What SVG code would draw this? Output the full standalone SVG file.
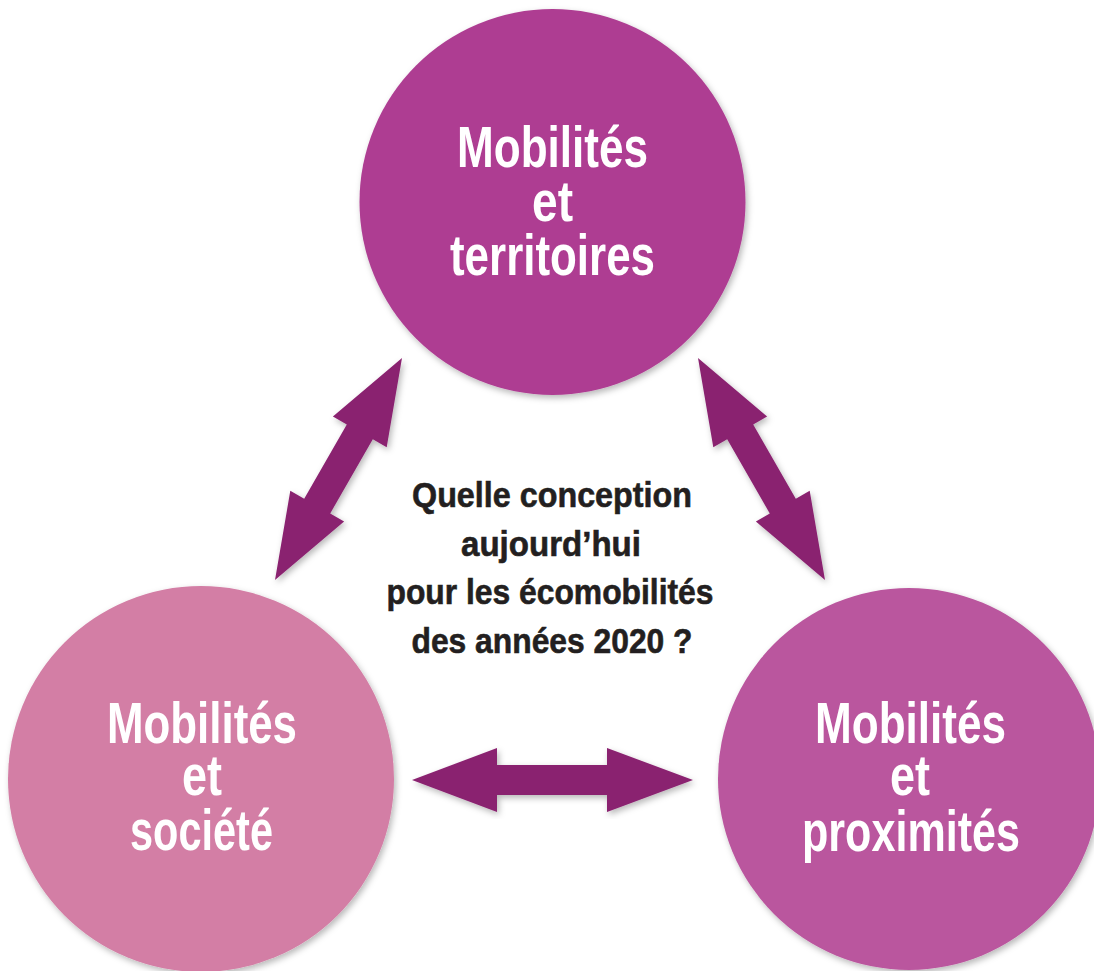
<svg xmlns="http://www.w3.org/2000/svg" width="1094" height="971" viewBox="0 0 1094 971">
  <defs>
    <filter id="shadow" x="-10%" y="-10%" width="120%" height="120%">
      <feDropShadow dx="2" dy="3" stdDeviation="3" flood-color="#000" flood-opacity="0.28"/>
    </filter>
    <style>
      .node-label { font-family: "Liberation Sans", Arial, sans-serif; font-weight: bold; font-size: 57px; fill: #ffffff; text-anchor: middle; }
      .center-label { font-family: "Liberation Sans", Arial, sans-serif; font-weight: bold; font-size: 35px; fill: #231f20; stroke: #231f20; stroke-width: 0.6px; text-anchor: middle; }
      .arrow { fill: #8a2270; filter: url(#shadow); }
      .disc { filter: url(#shadow); }
    </style>
  </defs>

  <rect width="1094" height="971" fill="#ffffff"/>

  <!-- double-headed connectors between the three themes -->
  <g id="connectors">
    <polygon class="arrow" points="402,358 386.7,447.2 372.8,439.2 330.2,513.6 344.1,521.6 275,580 290.3,490.8 304.2,498.8 346.8,424.4 332.9,416.4"/>
    <polygon class="arrow" points="698,358 713.3,447.2 727.2,439.2 769.8,513.6 755.9,521.6 825,580 809.7,490.8 795.8,498.8 753.2,424.4 767.1,416.4"/>
    <polygon class="arrow" points="412,780 497,748 497,765 607,765 607,748 693,780 607,812 607,795 497,795 497,812"/>
  </g>

  <g id="node-territoires">
    <circle class="disc" cx="552.5" cy="202" r="193" fill="#ae3e92"/>
    <text class="node-label" x="552.5" y="167" textLength="191" lengthAdjust="spacingAndGlyphs">Mobilités</text>
    <text class="node-label" x="552.5" y="221" textLength="41" lengthAdjust="spacingAndGlyphs">et</text>
    <text class="node-label" x="552.5" y="275" textLength="205" lengthAdjust="spacingAndGlyphs">territoires</text>
  </g>

  <g id="node-societe">
    <circle class="disc" cx="201" cy="779" r="193" fill="#d37ea5"/>
    <text class="node-label" x="202" y="743" textLength="190" lengthAdjust="spacingAndGlyphs">Mobilités</text>
    <text class="node-label" x="202" y="795" textLength="40" lengthAdjust="spacingAndGlyphs">et</text>
    <text class="node-label" x="201.5" y="850" textLength="143" lengthAdjust="spacingAndGlyphs">société</text>
  </g>

  <g id="node-proximites">
    <circle class="disc" cx="909" cy="779" r="191" fill="#ba569e"/>
    <text class="node-label" x="910.5" y="743" textLength="191" lengthAdjust="spacingAndGlyphs">Mobilités</text>
    <text class="node-label" x="910" y="795" textLength="40" lengthAdjust="spacingAndGlyphs">et</text>
    <text class="node-label" x="911" y="851" textLength="218" lengthAdjust="spacingAndGlyphs">proximités</text>
  </g>

  <g id="question">
    <text class="center-label" x="552" y="507" textLength="280" lengthAdjust="spacingAndGlyphs">Quelle conception</text>
    <text class="center-label" x="551" y="556" textLength="180" lengthAdjust="spacingAndGlyphs">aujourd’hui</text>
    <text class="center-label" x="550" y="604" textLength="327" lengthAdjust="spacingAndGlyphs">pour les écomobilités</text>
    <text class="center-label" x="552" y="653" textLength="281" lengthAdjust="spacingAndGlyphs">des années 2020 ?</text>
  </g>
</svg>
